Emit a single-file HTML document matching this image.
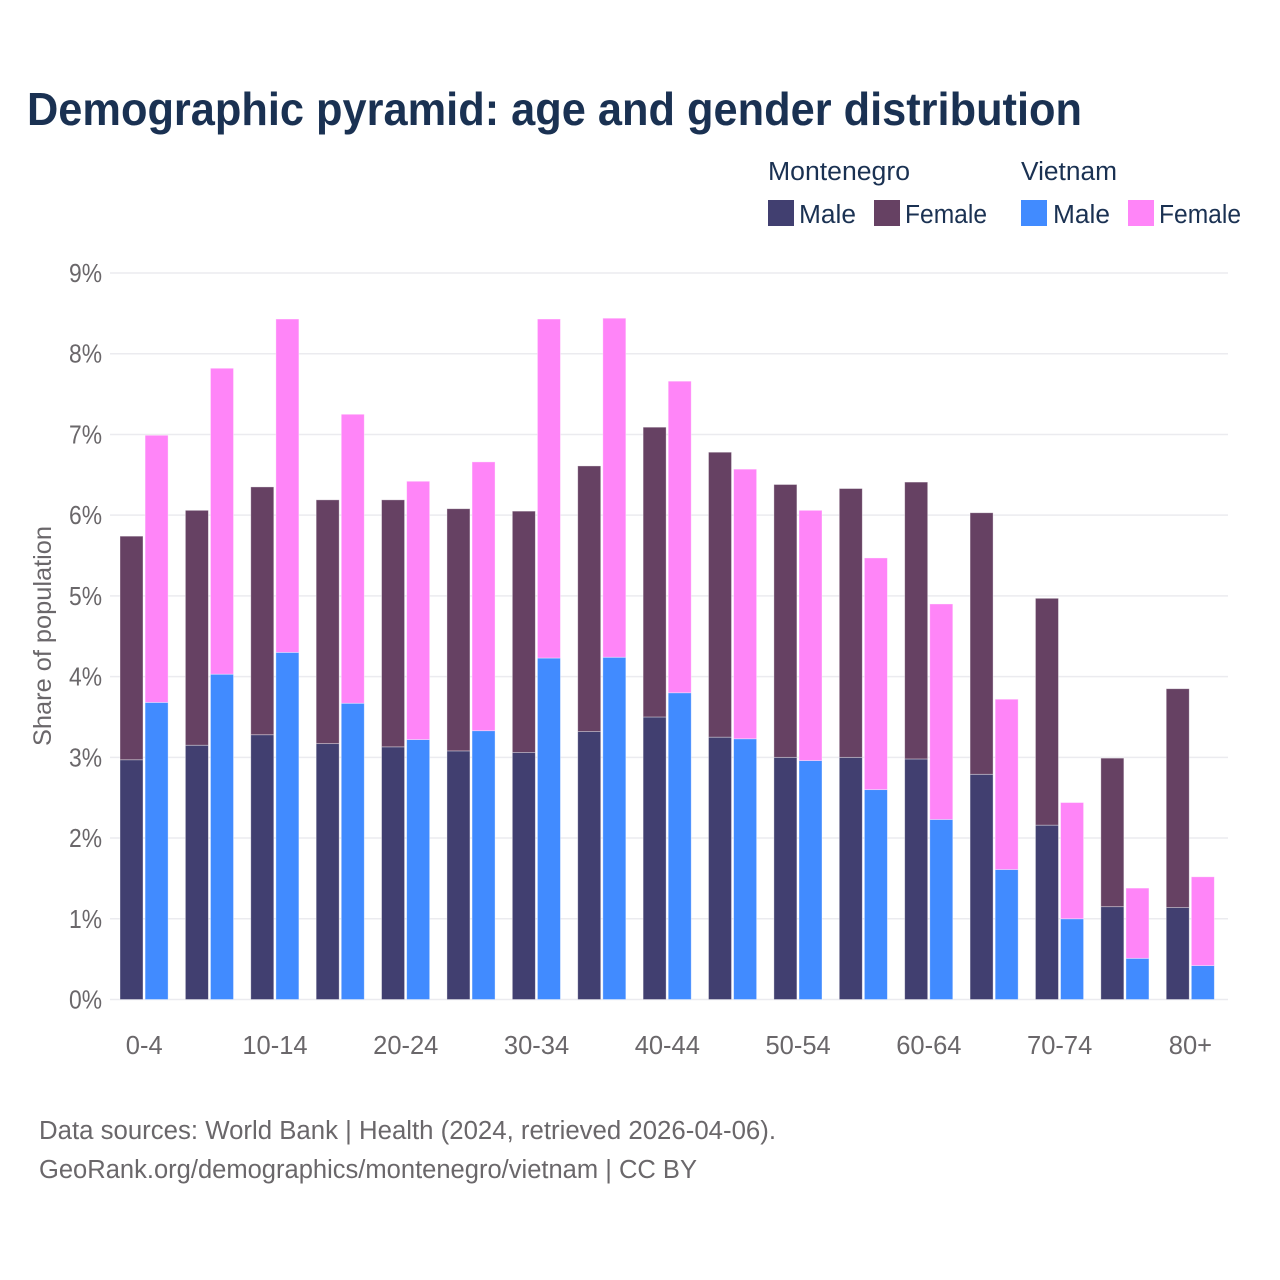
<!DOCTYPE html>
<html lang="en">
<head>
<meta charset="utf-8">
<title>Demographic pyramid: age and gender distribution</title>
<style>
html,body{margin:0;padding:0;background:#fff;width:1280px;height:1280px;overflow:hidden}
svg{display:block;font-family:"Liberation Sans",Arial,sans-serif}
.nav{fill:#1a3152}
.gry{fill:#6a676a}
</style>
</head>
<body>
<svg id="chart" xmlns="http://www.w3.org/2000/svg" width="1280" height="1280" viewBox="0 0 1280 1280">
  <rect x="0" y="0" width="1280" height="1280" fill="#ffffff"/>
  <text class="nav" x="27" y="125" font-size="46" font-weight="700" textLength="1055" lengthAdjust="spacingAndGlyphs">Demographic pyramid: age and gender distribution</text>

  <g font-size="25.5">
    <text class="nav" x="768" y="180" textLength="142" lengthAdjust="spacingAndGlyphs">Montenegro</text>
    <text class="nav" x="1021" y="180" textLength="96" lengthAdjust="spacingAndGlyphs">Vietnam</text>
    <rect x="768" y="200" width="26" height="26" fill="#413f70"/>
    <text class="nav" x="799" y="223" textLength="57" lengthAdjust="spacingAndGlyphs">Male</text>
    <rect x="874" y="200" width="26" height="26" fill="#664163"/>
    <text class="nav" x="905" y="223" textLength="82" lengthAdjust="spacingAndGlyphs">Female</text>
    <rect x="1021" y="200" width="26" height="26" fill="#418bff"/>
    <text class="nav" x="1053" y="223" textLength="57" lengthAdjust="spacingAndGlyphs">Male</text>
    <rect x="1128" y="200" width="26" height="26" fill="#ff85f8"/>
    <text class="nav" x="1159" y="223" textLength="82" lengthAdjust="spacingAndGlyphs">Female</text>
  </g>

  <text class="gry" x="0" y="0" font-size="25" text-anchor="middle" transform="translate(51 636) rotate(-90)" textLength="220" lengthAdjust="spacingAndGlyphs">Share of population</text>

  <g id="grid"></g>
  <g id="yticks"></g>
  <g id="bars"></g>
  <g id="xticks"></g>

  <text class="gry" x="39" y="1139" font-size="25.5" textLength="737" lengthAdjust="spacingAndGlyphs">Data sources: World Bank | Health (2024, retrieved 2026-04-06).</text>
  <text class="gry" x="39" y="1178" font-size="25.5" textLength="658" lengthAdjust="spacingAndGlyphs">GeoRank.org/demographics/montenegro/vietnam | CC BY</text>
</svg>
<script>
const ageGroups = ["0-4","5-9","10-14","15-19","20-24","25-29","30-34","35-39","40-44","45-49","50-54","55-59","60-64","65-69","70-74","75-79","80+"];
const montenegroMale = [2.97,3.15,3.28,3.17,3.13,3.08,3.06,3.32,3.50,3.25,3.00,3.00,2.98,2.79,2.16,1.15,1.14];
const montenegroFemale = [2.77,2.91,3.07,3.02,3.06,3.00,2.99,3.29,3.59,3.53,3.38,3.33,3.43,3.24,2.81,1.84,2.71];
const vietnamMale = [3.68,4.03,4.30,3.67,3.22,3.33,4.23,4.24,3.80,3.23,2.96,2.60,2.23,1.61,1.00,0.51,0.42];
const vietnamFemale = [3.31,3.79,4.13,3.58,3.20,3.33,4.20,4.20,3.86,3.34,3.10,2.87,2.67,2.11,1.44,0.87,1.10];
const yTickValues = [0,1,2,3,4,5,6,7,8,9];

const NS = 'http://www.w3.org/2000/svg';
function yScale(v) { return 999.5 - v * 80.72; }
function xCenter(i) { return 144.2 + i * 65.39; }

const gridGroup = document.getElementById('grid');
const yTickGroup = document.getElementById('yticks');
const barGroup = document.getElementById('bars');
const xTickGroup = document.getElementById('xticks');

yTickValues.forEach(function (t) {
  const line = document.createElementNS(NS, 'line');
  
  
  line.setAttribute('x1', 110);
  line.setAttribute('x2', 1228);
  line.setAttribute('y1', yScale(t));
  line.setAttribute('y2', yScale(t));
  line.setAttribute('stroke', '#ebebef');
  line.setAttribute('stroke-width', 1.5);
  gridGroup.appendChild(line);

  const label = document.createElementNS(NS, 'text');
  
  
  label.setAttribute('class', 'gry');
  label.setAttribute('x', 69);
  label.setAttribute('y', yScale(t) + 9);
  label.setAttribute('font-size', 25.5);
  label.setAttribute('textLength', 33);
  label.setAttribute('lengthAdjust', 'spacingAndGlyphs');
  label.textContent = t + '%';
  yTickGroup.appendChild(label);
});

function addBar(x, base, value, fill, name) {
  const rect = document.createElementNS(NS, 'rect');
  
  
  rect.setAttribute('x', x);
  rect.setAttribute('y', yScale(base + value));
  rect.setAttribute('width', 23);
  rect.setAttribute('height', yScale(base) - yScale(base + value));
  rect.setAttribute('fill', fill);
  rect.setAttribute('stroke', '#ffffff');
  rect.setAttribute('stroke-opacity', 0.45);
  rect.setAttribute('stroke-width', 0.8);
  barGroup.appendChild(rect);
}

ageGroups.forEach(function (age, i) {
  const c = xCenter(i);
  addBar(c - 24.2, 0, montenegroMale[i], '#413f70', 'bar-montenegro-male');
  addBar(c - 24.2, montenegroMale[i], montenegroFemale[i], '#664163', 'bar-montenegro-female');
  addBar(c + 0.9, 0, vietnamMale[i], '#418bff', 'bar-vietnam-male');
  addBar(c + 0.9, vietnamMale[i], vietnamFemale[i], '#ff85f8', 'bar-vietnam-female');
  if (i % 2 === 0) {
    const label = document.createElementNS(NS, 'text');
    
    
    label.setAttribute('class', 'gry');
    label.setAttribute('x', c);
    label.setAttribute('y', 1054);
    label.setAttribute('font-size', 25.5);
    label.setAttribute('text-anchor', 'middle');
    label.textContent = age;
    xTickGroup.appendChild(label);
  }
});
</script>
</body>
</html>
